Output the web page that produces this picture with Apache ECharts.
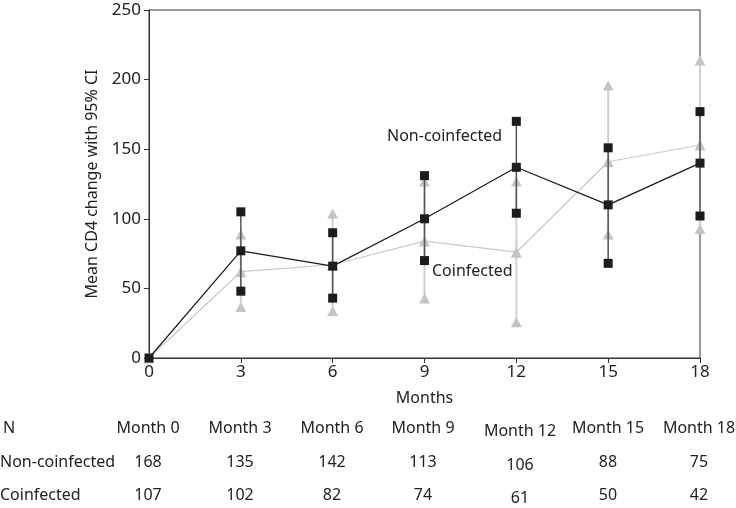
<!DOCTYPE html>
<html><head><meta charset="utf-8">
<script src="https://cdn.jsdelivr.net/npm/echarts@6/dist/echarts.min.js"></script>
<style>html,body{margin:0;padding:0;background:#fff}#c{width:736px;height:508px}</style>
</head><body><div id="c"></div>
<script>
var months = [0, 3, 6, 9, 12, 15, 18];
var yTicks = [0, 50, 100, 150, 200, 250];
var ncMean = [0, 77, 66, 100, 137, 110, 140];
var ncLow  = [null, 48, 43, 70, 104, 68, 102];
var ncHigh = [null, 105, 90, 131, 170, 151, 177];
var coMean = [0, 62, 67, 84, 76, 141, 153];
var coLow  = [null, 36, 33, 42, 25, 88, 92];
var coHigh = [null, 88, 103, 126, 126, 195, 213];
var tableHeaders = ['Month 0','Month 3','Month 6','Month 9','Month 12','Month 15','Month 18'];
var nNon = [168, 135, 142, 113, 106, 88, 75];
var nCo = [107, 102, 82, 74, 61, 50, 42];
var seriesNames = ['Non-coinfected', 'Coinfected'];

var FONT = '"Noto Sans", sans-serif';
var FS = 16;
var chart = echarts.init(document.getElementById('c'), null, {renderer: 'canvas'});

function ciData(low, high) {
  var d = [];
  for (var i = 0; i < months.length; i++) {
    if (low[i] != null) d.push([months[i], low[i], high[i]]);
  }
  return d;
}
function ciRender(color, width, endShape) {
  return function (params, api) {
    var x = api.value(0);
    var lo = api.coord([x, api.value(1)]);
    var hi = api.coord([x, api.value(2)]);
    var ch = [{
      type: 'line',
      shape: {x1: lo[0], y1: lo[1], x2: hi[0], y2: hi[1]},
      style: {stroke: color, lineWidth: width}
    }];
    [lo, hi].forEach(function (p) {
      if (endShape === 'rect') {
        ch.push({type: 'rect', shape: {x: p[0] - 4.5, y: p[1] - 4.5, width: 9, height: 9},
          style: {fill: '#1c1c1c'}});
      } else {
        ch.push({type: 'polygon', shape: {points: [[p[0], p[1] - 6], [p[0] - 5.5, p[1] + 4], [p[0] + 5.5, p[1] + 4]]},
          style: {fill: '#c4c4c4'}});
      }
    });
    return {type: 'group', children: ch};
  };
}

function txt(t, x, y, align) {
  return {type: 'text', x: x, y: y, style: {text: t, font: FS + 'px ' + FONT, fill: '#222', align: align || 'center', verticalAlign: 'middle'}};
}
var graphics = [
  txt(seriesNames[0], 387, 136, 'left'),
  txt(seriesNames[1], 432, 271, 'left'),
  txt('N', 3, 428, 'left'),
  txt(seriesNames[0], 0, 462, 'left'),
  txt(seriesNames[1], 0, 495, 'left')
];
var colX = [148, 240, 332, 423, 520, 608, 699];
for (var i = 0; i < tableHeaders.length; i++) {
  var dy = (i === 4) ? 3 : 0;
  graphics.push(txt(tableHeaders[i], colX[i], 428 + dy));
  graphics.push(txt(String(nNon[i]), colX[i], 462 + dy));
  graphics.push(txt(String(nCo[i]), colX[i], 495 + dy));
}

chart.setOption({
  animation: false,
  backgroundColor: '#fff',
  textStyle: {fontFamily: FONT},
  grid: {left: 149, right: 36, top: 10, bottom: 150, show: true, borderColor: '#333', borderWidth: 1},
  xAxis: {
    type: 'value', min: months[0], max: months[months.length - 1], interval: 3,
    name: 'Months', nameLocation: 'middle', nameGap: 32,
    nameTextStyle: {fontSize: FS, color: '#222', fontFamily: FONT},
    axisLine: {lineStyle: {color: '#333', width: 1}},
    axisTick: {show: true, length: 5, lineStyle: {color: '#333'}},
    axisLabel: {fontSize: 17, color: '#222', margin: 6, fontFamily: FONT},
    splitLine: {show: false}
  },
  yAxis: {
    type: 'value', min: yTicks[0], max: yTicks[yTicks.length - 1], interval: 50,
    name: 'Mean CD4 change with 95% CI', nameLocation: 'middle', nameGap: 48,
    nameTextStyle: {fontSize: FS, color: '#222', fontFamily: FONT},
    axisLine: {show: true, lineStyle: {color: '#333', width: 1}},
    axisTick: {show: true, length: 5, lineStyle: {color: '#333'}},
    axisLabel: {fontSize: 17, color: '#222', margin: 8, fontFamily: FONT},
    splitLine: {show: false}
  },
  graphic: graphics,
  series: [
    {type: 'custom', name: seriesNames[1] + ' CI', data: ciData(coLow, coHigh),
      renderItem: ciRender('#cfcfcf', 2, 'tri'), encode: {x: 0, y: [1, 2]}, z: 1},
    {type: 'line', name: seriesNames[1], data: months.map(function (m, i) { return [m, coMean[i]]; }),
      symbol: 'triangle', symbolSize: 11, lineStyle: {color: '#c8c8c8', width: 1.2},
      itemStyle: {color: '#c4c4c4'}, z: 2},
    {type: 'custom', name: seriesNames[0] + ' CI', data: ciData(ncLow, ncHigh),
      renderItem: ciRender('#555', 1.5, 'rect'), encode: {x: 0, y: [1, 2]}, z: 3},
    {type: 'line', name: seriesNames[0], data: months.map(function (m, i) { return [m, ncMean[i]]; }),
      symbol: 'rect', symbolSize: 9, lineStyle: {color: '#1a1a1a', width: 1.2},
      itemStyle: {color: '#1c1c1c'}, z: 4}
  ]
});
</script></body></html>
